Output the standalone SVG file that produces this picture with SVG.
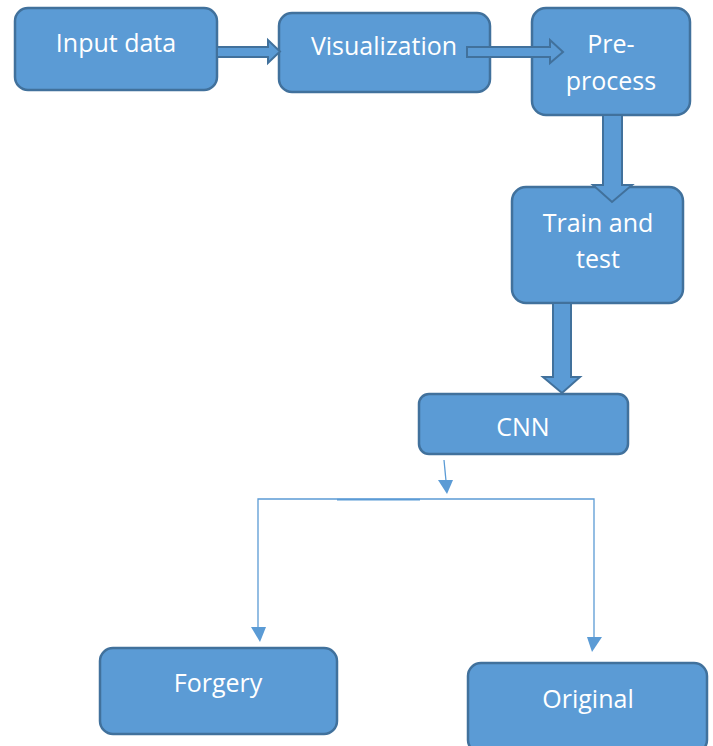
<svg xmlns="http://www.w3.org/2000/svg" width="713" height="746" viewBox="0 0 713 746">
<style>
.box{fill:#5B9BD5;stroke:#41719C;stroke-width:2.5}
.lbl{font-family:"Open Sans","Liberation Sans",sans-serif;font-size:25px;fill:#FFFFFF;text-anchor:middle}
.blk{fill:#5B9BD5;stroke:#41719C;stroke-width:2;stroke-linejoin:miter}
.thin{fill:none;stroke:#5B9BD5;stroke-width:1.3}
.head{fill:#5B9BD5;stroke:none}
</style>
<rect width="713" height="746" fill="#FFFFFF"/>
<g id="node-input">
<rect class="box" x="15" y="8" width="202" height="82" rx="13"/>
<text class="lbl" x="116" y="52">Input data</text>
</g>
<g id="node-visualization">
<rect class="box" x="279" y="13" width="211" height="79" rx="13"/>
<text class="lbl" x="384" y="55">Visualization</text>
</g>
<g id="node-preprocess">
<rect class="box" x="532" y="8" width="158" height="107" rx="14"/>
<text class="lbl" x="611" y="53">Pre-</text>
<text class="lbl" x="611" y="90">process</text>
</g>
<g id="node-train">
<rect class="box" x="512" y="187" width="171" height="116" rx="14"/>
<text class="lbl" x="598" y="232">Train and</text>
<text class="lbl" x="598" y="268">test</text>
</g>
<g id="node-cnn">
<rect class="box" x="419" y="394" width="209" height="60" rx="10"/>
<text class="lbl" x="523" y="436">CNN</text>
</g>
<g id="node-forgery">
<rect class="box" x="100" y="648" width="237" height="86" rx="13"/>
<text class="lbl" x="218" y="692">Forgery</text>
</g>
<g id="node-original">
<rect class="box" x="468" y="663" width="239" height="90" rx="13"/>
<text class="lbl" x="588" y="708">Original</text>
</g>
<g id="connectors">
<polygon class="blk" points="217,47 268,47 268,40 280,51.5 268,63 268,57 217,57"/>
<polygon class="blk" points="467,47 550,47 550,40 563,52 550,63 550,57 467,57"/>
<polygon class="blk" points="603,115 622,115 622,185 632,185 612,202 593,185 603,185"/>
<polygon class="blk" points="553,303 571,303 571,377 580,377 562,393 543,377 553,377"/>
<line class="thin" x1="444" y1="460" x2="446" y2="481"/>
<polygon class="head" points="438,480 453,480 447,494"/>
<polyline class="thin" points="258,628 258,499 594,499 594,637"/>
<line x1="337" y1="499.6" x2="420" y2="499.6" stroke="#5B9BD5" stroke-width="1.6"/>
<polygon class="head" points="251,627 266,627 260,642"/>
<polygon class="head" points="587,637 602,637 592,652"/>
</g>
</svg>
